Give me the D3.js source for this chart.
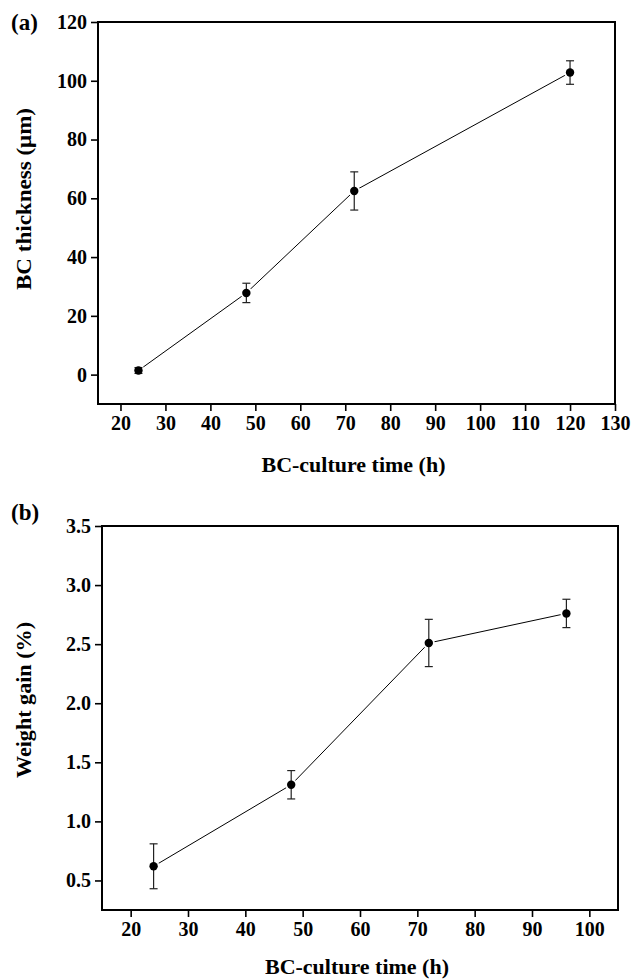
<!DOCTYPE html>
<html>
<head>
<meta charset="utf-8">
<script src="https://cdn.jsdelivr.net/npm/d3@7"></script>
<style>
  body { margin: 0; background: #fff; }
  svg { display: block; font-family: "Liberation Serif", "Times New Roman", serif; }
</style>
</head>
<body>
<svg id="chart" width="633" height="980"></svg>
<script>
// panel (a): BC thickness vs culture time
var timeA = [24, 48, 72, 120];
var thickness = [1.4, 27.8, 62.5, 102.8];
var thicknessErr = [1.0, 3.3, 6.5, 4.0];
var xTicksA = [20, 30, 40, 50, 60, 70, 80, 90, 100, 110, 120, 130];
var yTicksA = [0, 20, 40, 60, 80, 100, 120];

// panel (b): weight gain vs culture time
var timeB = [24, 48, 72, 96];
var weightGain = [0.62, 1.31, 2.51, 2.76];
var weightErr = [0.19, 0.12, 0.2, 0.12];
var xTicksB = [20, 30, 40, 50, 60, 70, 80, 90, 100];
var yTicksB = [0.5, 1.0, 1.5, 2.0, 2.5, 3.0, 3.5];

function drawPanel(svg, p) {
    var g = svg.append('g');
    var x = d3.scaleLinear().domain(p.xDomain).range([p.left, p.right]);
    var y = d3.scaleLinear().domain(p.yDomain).range([p.bottom, p.top]);
    var pts = p.xs.map((d, i) => ({x: d, y: p.ys[i], e: p.errs[i]}));

    // axes
    var xAxis = g.append('g')
        .attr('transform', 'translate(0,' + p.bottom + ')')
        .call(d3.axisBottom(x).tickValues(p.xTicks).tickSize(7).tickSizeOuter(0).tickPadding(5).tickFormat(d3.format('d')));
    var yAxis = g.append('g')
        .attr('transform', 'translate(' + p.left + ',0)')
        .call(d3.axisLeft(y).tickValues(p.yTicks).tickSize(7).tickSizeOuter(0).tickPadding(4).tickFormat(p.yFormat));
    [xAxis, yAxis].forEach(a => {
        a.attr('font-family', null).attr('font-size', null);
        a.select('.domain').remove();
        a.selectAll('.tick line').attr('stroke', '#000').attr('stroke-width', 1.6);
        a.selectAll('.tick text')
            .attr('fill', '#000')
            .attr('font-weight', 'bold')
            .attr('font-size', 20);
    });

    // frame
    g.append('rect')
        .attr('x', p.left)
        .attr('y', p.top)
        .attr('width', p.right - p.left)
        .attr('height', p.bottom - p.top)
        .attr('fill', 'none')
        .attr('stroke', '#000')
        .attr('stroke-width', 2);

    // line
    g.append('path')
        .datum(pts)
        .attr('fill', 'none')
        .attr('stroke', '#000')
        .attr('stroke-width', 1)
        .attr('d', d3.line().x(d => x(d.x)).y(d => y(d.y)));
    // white halo so the line stops short of the markers
    g.selectAll('circle.halo')
        .data(pts).enter()
        .append('circle')
            .attr('class', 'halo')
            .attr('cx', d => x(d.x))
            .attr('cy', d => y(d.y))
            .attr('r', 6)
            .attr('fill', '#fff');

    // error bars
    var eb = g.selectAll('g.err')
        .data(pts).enter()
        .append('g')
        .attr('class', 'err')
        .attr('stroke', '#222')
        .attr('stroke-width', 1.2);
    eb.append('line')
        .attr('x1', d => x(d.x)).attr('x2', d => x(d.x))
        .attr('y1', d => y(d.y - d.e)).attr('y2', d => y(d.y + d.e));
    eb.append('line')
        .attr('x1', d => x(d.x) - 4).attr('x2', d => x(d.x) + 4)
        .attr('y1', d => y(d.y + d.e)).attr('y2', d => y(d.y + d.e));
    eb.append('line')
        .attr('x1', d => x(d.x) - 4).attr('x2', d => x(d.x) + 4)
        .attr('y1', d => y(d.y - d.e)).attr('y2', d => y(d.y - d.e));

    // markers
    g.selectAll('circle.pt')
        .data(pts).enter()
        .append('circle')
            .attr('class', 'pt')
            .attr('cx', d => x(d.x))
            .attr('cy', d => y(d.y))
            .attr('r', 4.2)
            .attr('fill', '#000');

    // titles
    g.append('text')
        .attr('x', (p.left + p.right) / 2 - 3)
        .attr('y', p.xTitleY)
        .attr('text-anchor', 'middle')
        .attr('font-weight', 'bold')
        .attr('font-size', 21)
        .attr('textLength', 184)
        .attr('lengthAdjust', 'spacingAndGlyphs')
        .text('BC-culture time (h)');
    g.append('text')
        .attr('transform', 'translate(31,' + p.yTitleMid + ') rotate(-90)')
        .attr('text-anchor', 'middle')
        .attr('font-weight', 'bold')
        .attr('font-size', 21)
        .attr('textLength', p.yTitleLen)
        .attr('lengthAdjust', 'spacingAndGlyphs')
        .text(p.yTitle);
    g.append('text')
        .attr('x', 11)
        .attr('y', p.labelY)
        .attr('font-weight', 'bold')
        .attr('font-size', 23)
        .text(p.label);
}

var svg = d3.select('#chart');

drawPanel(svg, {
    xs: timeA, ys: thickness, errs: thicknessErr,
    xDomain: [15, 130], yDomain: [-10, 120],
    xTicks: xTicksA, yTicks: yTicksA, yFormat: d3.format('d'),
    left: 98, right: 615, top: 22, bottom: 404,
    xTitleY: 472, yTitle: 'BC thickness (\u03bcm)', yTitleMid: 199, yTitleLen: 182,
    label: '(a)', labelY: 30
});

drawPanel(svg, {
    xs: timeB, ys: weightGain, errs: weightErr,
    xDomain: [15, 105], yDomain: [0.25, 3.5],
    xTicks: xTicksB, yTicks: yTicksB, yFormat: d3.format('.1f'),
    left: 102, right: 618, top: 526, bottom: 910,
    xTitleY: 974, yTitle: 'Weight gain (%)', yTitleMid: 700, yTitleLen: 156,
    label: '(b)', labelY: 520
});
</script>
</body>
</html>
